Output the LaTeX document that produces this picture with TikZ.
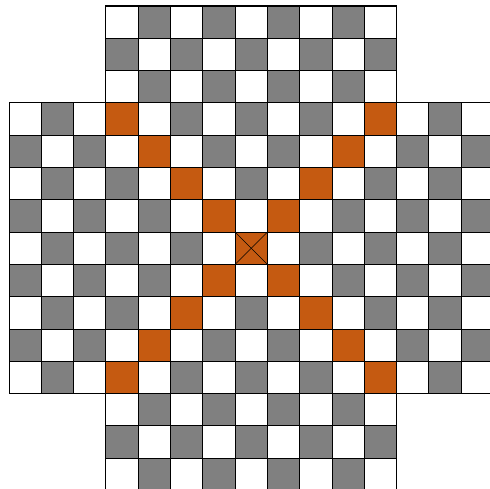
\documentclass[tikz,border=0pt]{standalone}
\usepackage{xcolor}
\usepackage{tikz}

\definecolor{boardorange}{HTML}{C55A11}

\begin{document}
\begin{tikzpicture}[x=1cm,y=-1cm]

% parameters
\def\nmax{14}
\def\clo{3}
\def\chi{11}

\useasboundingbox (-0.279,-0.186) rectangle (14.89,14.95);

% cells of the cross shaped board
\foreach \c in {0,...,\nmax} {
  \foreach \r in {0,...,\nmax} {
    \pgfmathtruncatemacro{\incorner}{((\c<\clo)||(\c>\chi))&&((\r<\clo)||(\r>\chi))}
    \ifnum\incorner=0
      \pgfmathtruncatemacro{\iseven}{mod(\c+\r,2)==0}
      \pgfmathtruncatemacro{\isdiag}{(\c==\r)||(\c+\r==\nmax)}
      \ifnum\isdiag=1
        \def\cellcol{boardorange}
      \else
        \ifnum\iseven=1
          \def\cellcol{gray}
        \else
          \def\cellcol{white}
        \fi
      \fi
      \filldraw[fill=\cellcol, draw=black, line width=0.9pt] (\c,\r) rectangle ++(1,1);
    \fi
  }
}

% cross in the centre cell
\draw[line width=0.5pt] (7,7) -- (8,8);
\draw[line width=0.5pt] (8,7) -- (7,8);

\end{tikzpicture}
\end{document}
